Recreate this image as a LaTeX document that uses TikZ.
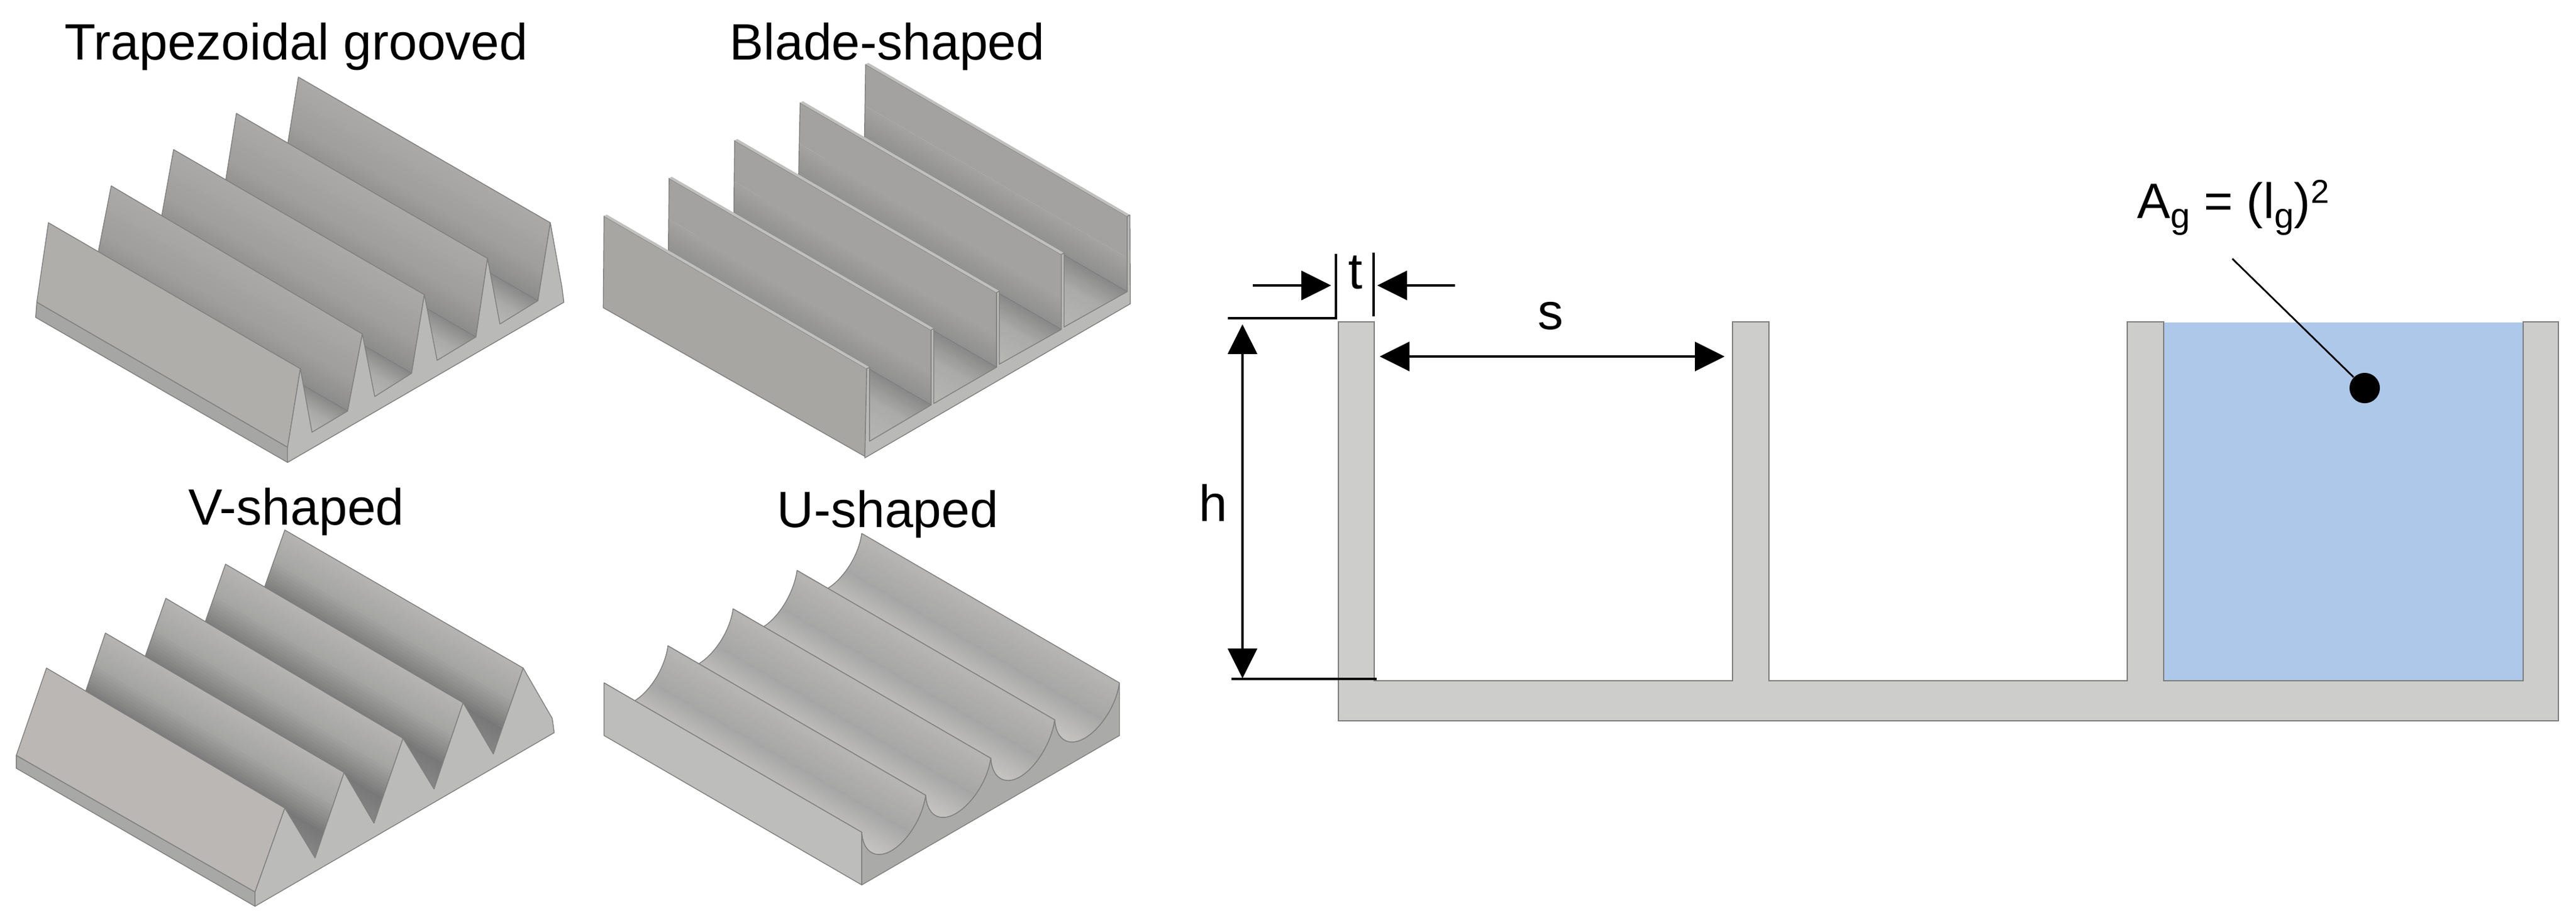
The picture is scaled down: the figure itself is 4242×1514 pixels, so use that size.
\documentclass[tikz,border=0pt]{standalone}
\usepackage{fontspec}
\setmainfont{Liberation Sans}
\usetikzlibrary{calc,arrows.meta}
\definecolor{edgegray}{HTML}{808080}
\definecolor{wallA}{HTML}{ABA9A7}
\definecolor{wallB}{HTML}{A09E9C}
\definecolor{wallC}{HTML}{8B8B8B}
\definecolor{floorA}{HTML}{8A8A8A}
\definecolor{floorB}{HTML}{ABABA9}
\definecolor{floorC}{HTML}{B7B7B5}
\definecolor{trapFace}{HTML}{B0AEAB}
\definecolor{trapStrip}{HTML}{A6A6A4}
\definecolor{trapEnd}{HTML}{B9B9B7}
\definecolor{bladeFace}{HTML}{A7A6A3}
\definecolor{bladeWall}{HTML}{A3A2A0}
\definecolor{bladeLow}{HTML}{8F8F8F}
\definecolor{bladeTop}{HTML}{C0C0BE}
\definecolor{vA}{HTML}{B5B4B2}
\definecolor{vB}{HTML}{A5A5A3}
\definecolor{vC}{HTML}{787878}
\definecolor{vD}{HTML}{888888}
\definecolor{vFace}{HTML}{BAB7B5}
\definecolor{vStrip}{HTML}{A8A8A6}
\definecolor{vEnd}{HTML}{BBBBB9}
\definecolor{uA}{HTML}{B6B5B3}
\definecolor{uB}{HTML}{A6A6A6}
\definecolor{uC}{HTML}{BBBAB8}
\definecolor{uD}{HTML}{C6C5C3}
\definecolor{uFace}{HTML}{BDBDBB}
\definecolor{uEnd}{HTML}{AAAAA8}
\definecolor{secFill}{HTML}{CDCDCB}
\definecolor{secEdge}{HTML}{7D7D7D}
\definecolor{water}{HTML}{AEC8E9}
\newcommand\gradseg[8]{%
  \foreach \k in {0,...,10}{%
    \pgfmathsetmacro\gt{#5+(#6-#5)*\k/10}%
    \pgfmathsetmacro\gp{100-10*\k}%
    \fill[#7!\gp!#8] ($(#1)!\gt!(#4)$) -- ($(#2)!\gt!(#3)$) -- (#3) -- (#4) -- cycle;
  }%
}
\newcommand\ugroove[4]{%
  \begin{scope}
    \clip (#3-665,#4-525) .. controls (#3-10-665,#4+100-525) and (#1+95-665,#2+75-525) .. (#1+47-665,#2+78-525)
      .. controls (#1+20-665,#2+80-525) and (#1+2-665,#2+50-525) .. (#1-665,#2-525)
      -- (#1,#2) .. controls (#1+2,#2+50) and (#1+20,#2+80) .. (#1+47,#2+78)
      .. controls (#1+95,#2+75) and (#3-10,#4+100) .. (#3,#4) -- cycle;
    \coordinate (qa) at (#3-665,#4-525);
    \coordinate (qb) at (#3+133,#4+105);
    \coordinate (qc) at (#1+47+133,#2+90+105);
    \coordinate (qd) at (#1+47-665,#2+90-525);
    \gradseg{qa}{qb}{qc}{qd}{0}{.5}{uA}{uB}
    \gradseg{qa}{qb}{qc}{qd}{.5}{.8}{uB}{uC}
    \gradseg{qa}{qb}{qc}{qd}{.8}{1}{uC}{uD}
  \end{scope}
  \draw[edgeline] (#3-665,#4-525) .. controls (#3-10-665,#4+100-525) and (#1+95-665,#2+75-525) .. (#1+47-665,#2+78-525)
      .. controls (#1+20-665,#2+80-525) and (#1+2-665,#2+50-525) .. (#1-665,#2-525)
      -- (#1,#2) .. controls (#1+2,#2+50) and (#1+20,#2+80) .. (#1+47,#2+78)
      .. controls (#1+95,#2+75) and (#3-10,#4+100) .. (#3,#4) -- cycle;
}
\newcommand\subg{\raisebox{-0.2em}{\fontsize{16.5}{16.5}\selectfont g}}
\newcommand\supt{\raisebox{0.3em}{\fontsize{15.5}{15.5}\selectfont 2}}
\tikzset{
  edgeline/.style={draw=edgegray,line width=0.4pt,line join=round},
  title/.style={anchor=base,inner sep=0pt,font=\fontsize{23.9}{28}\selectfont},
  dimlabel/.style={anchor=base,inner sep=0pt,font=\fontsize{23.9}{28}\selectfont},
  dimline/.style={draw=black,line width=1pt},
  dimarrow/.style={draw=black,line width=1.1pt,-{Triangle[length=0.49cm,width=0.48cm]}},
  dimboth/.style={draw=black,line width=1.1pt,{Triangle[length=0.49cm,width=0.48cm]}-{Triangle[length=0.49cm,width=0.48cm]}},
  section/.style={fill=secFill,draw=secEdge,line width=0.8pt,line join=miter},
  panelA/.style={shift={(0,0)},x=0.006378cm,y=-0.004975cm},
  panelB/.style={shift={(950,0)},x=0.006378cm,y=-0.004975cm},
  panelC/.style={shift={(0,780)},x=0.006378cm,y=-0.004681cm},
  panelD/.style={shift={(950,780)},x=0.006378cm,y=-0.004681cm}
}
\begin{document}
\begin{tikzpicture}[x=0.01cm,y=-0.01cm]
\useasboundingbox (0,0) rectangle (4242,1514);
\fill[white] (0,0) rectangle (4242,1514);

% ---------- Trapezoidal
\begin{scope}[panelA]
\foreach \bx/\by/\fx/\fy/\gx/\gy/\lx/\ly in {
  770/255/1420/737/1388/995/1290/1072,
  610/375/1258/855/1228/1115/1128/1192,
  448/495/1095/975/1062/1235/967/1312,
  287/615/935/1105/897/1360/805/1430}{
  \coordinate (qa) at (\bx,\by);
  \coordinate (qb) at (\fx,\fy);
  \coordinate (qc) at (\gx,\gy);
  \coordinate (qd) at (\gx-650,\gy-483);
  \gradseg{qa}{qb}{qc}{qd}{0}{.6}{wallA}{wallB}
  \gradseg{qa}{qb}{qc}{qd}{.6}{1}{wallB}{wallC}
  \draw[edgeline] (qa) -- (qb) -- (qc) -- (qd) -- cycle;
  \coordinate (qe) at (\lx,\ly);
  \coordinate (qf) at (\lx-650,\ly-483);
  \gradseg{qd}{qc}{qe}{qf}{0}{.5}{floorA}{floorB}
  \gradseg{qd}{qc}{qe}{qf}{.5}{1}{floorB}{floorC}
  \draw[edgeline] (qc) -- (qd);
}
\fill[trapFace,edgeline] (125,737) -- (775,1220) -- (742,1480) -- (95,1000) -- cycle;
\fill[trapStrip,edgeline] (95,1000) -- (742,1480) -- (742,1530) -- (92,1050) -- cycle;
\fill[trapEnd,edgeline] (742,1530) -- (742,1480) -- (775,1220) -- (805,1430) -- (897,1360) -- (935,1105) -- (967,1312) -- (1062,1235) -- (1095,975) -- (1128,1192) -- (1228,1115) -- (1258,855) -- (1290,1072) -- (1388,995) -- (1420,737) -- (1450,950) -- (1455,1000) -- cycle;
\end{scope}
\node[title] (tTrap) at (488,98) {Trapezoidal grooved};

% ---------- Blade
\begin{scope}[panelB]
\foreach \bx/\by/\fx/\fy/\gx/\gy/\lx/\ly in {
  745/213/1420/716/1420/965/1257/1082,
  576/340/1250/842/1250/1090/1090/1205,
  407/465/1083/968/1083/1215/921/1335,
  238/590/914/1092/914/1340/755/1460}{
  \coordinate (qa) at (\bx,\by);
  \coordinate (qb) at (\fx,\fy);
  \coordinate (qc) at (\gx,\gy);
  \coordinate (qd) at (\gx-678,\gy-503);
  \gradseg{qa}{qb}{qc}{qd}{.55}{1}{bladeWall}{bladeLow}
  \fill[bladeWall] (qa) -- (qb) -- ($(qb)!.55!(qc)$) -- ($(qa)!.55!(qd)$) -- cycle;
  \draw[edgeline] (qa) -- (qb) -- (qc) -- (qd) -- cycle;
  \fill[bladeTop] (qa) -- (\bx+7,\by-5) -- (\fx+7,\fy-5) -- (qb) -- cycle;
  \coordinate (qe) at (\lx,\ly);
  \coordinate (qf) at (\lx-678,\ly-503);
  \gradseg{qd}{qc}{qe}{qf}{0}{.4}{floorA}{floorB}
  \gradseg{qd}{qc}{qe}{qf}{.4}{1}{floorB}{floorC}
  \draw[edgeline] (qc) -- (qd);
}
\fill[bladeFace,edgeline] (70,715) -- (748,1220) -- (743,1510) -- (68,1018) -- cycle;
\fill[bladeTop] (70,715) -- (77,710) -- (755,1215) -- (748,1220) -- cycle;
\fill[trapEnd,edgeline] (743,1515) -- (748,1220) -- (755,1215) -- (755,1460) -- (914,1340) -- (914,1092) -- (921,1087) -- (921,1335) -- (1083,1215) -- (1083,968) -- (1090,963) -- (1090,1205) -- (1250,1090) -- (1250,842) -- (1257,837) -- (1257,1082) -- (1420,965) -- (1420,716) -- (1427,711) -- (1428,1005) -- cycle;
\end{scope}
\node[title] (tBlade) at (1461,98) {Blade-shaped};

% ---------- V
\begin{scope}[panelC]
\foreach \bx/\by/\fx/\fy/\gx/\gy in {
  735/198/1350/683/1273/985,
  582/318/1195/805/1120/1108,
  428/438/1040/930/965/1228,
  272/560/888/1050/813/1350}{
  \coordinate (qa) at (\bx,\by);
  \coordinate (qb) at (\fx,\fy);
  \coordinate (qc) at (\gx,\gy);
  \coordinate (qd) at (\gx-615,\gy-492);
  \gradseg{qa}{qb}{qc}{qd}{0}{.35}{vA}{vB}
  \gradseg{qa}{qb}{qc}{qd}{.35}{.7}{vB}{vC}
  \gradseg{qa}{qb}{qc}{qd}{.7}{1}{vC}{vD}
  \draw[edgeline] (qa) -- (qb) -- (qc) -- (qd) -- cycle;
}
\fill[vFace,edgeline] (120,683) -- (735,1175) -- (658,1470) -- (42,990) -- cycle;
\fill[vStrip,edgeline] (42,990) -- (658,1470) -- (658,1520) -- (42,1035) -- cycle;
\fill[vEnd,edgeline] (658,1520) -- (658,1470) -- (735,1175) -- (813,1350) -- (888,1050) -- (965,1228) -- (1040,930) -- (1120,1108) -- (1195,805) -- (1273,985) -- (1350,683) -- (1425,860) -- (1430,910) -- cycle;
\end{scope}
\node[title] (tV) at (488,864) {V-shaped};

% ---------- U
\begin{scope}[panelD]
\ugroove{1233}{865}{1400}{735}
\ugroove{1068}{1000}{1233}{865}
\ugroove{900}{1130}{1068}{1000}
\ugroove{735}{1260}{900}{1130}
\fill[uFace,edgeline] (70,735) -- (735,1260) -- (735,1445) -- (70,920) -- cycle;
\fill[uEnd,edgeline] (735,1445) -- (735,1260)
  .. controls (737,1310) and (755,1340) .. (782,1338) .. controls (830,1335) and (890,1230) .. (900,1130)
  .. controls (902,1180) and (920,1210) .. (947,1208) .. controls (995,1205) and (1058,1100) .. (1068,1000)
  .. controls (1070,1050) and (1088,1080) .. (1115,1078) .. controls (1163,1075) and (1223,965) .. (1233,865)
  .. controls (1235,915) and (1253,945) .. (1280,943) .. controls (1328,940) and (1390,835) .. (1400,735)
  -- (1400,920) -- cycle;
\end{scope}
\node[title] (tU) at (1462,868) {U-shaped};

% ---------- Section
\fill[water] (3563,531) rectangle (4155,1120);
\draw[section] (2204,530) -- (2263,530) -- (2263,1121) -- (2853,1121) -- (2853,530) -- (2913,530) -- (2913,1121) -- (3503,1121) -- (3503,530) -- (3563,530) -- (3563,1121) -- (4155,1121) -- (4155,530) -- (4213,530) -- (4213,1187) -- (2204,1187) -- cycle;

% t dimension
\coordinate (tLtop) at (2200,418);
\coordinate (tLbot) at (2200,524);
\coordinate (tLend) at (2022,524);
\coordinate (tRtop) at (2262,416);
\coordinate (tRbot) at (2262,521);
\coordinate (taStart) at (2063,470);
\coordinate (taTip) at (2192,470);
\coordinate (tbStart) at (2396,470);
\coordinate (tbTip) at (2268,470);
\draw[dimline] (tLtop) -- (tLbot) -- (tLend);
\draw[dimline] (tRtop) -- (tRbot);
\draw[dimarrow] (taStart) -- (taTip);
\draw[dimarrow] (tbStart) -- (tbTip);
\node[dimlabel] (tLabel) at (2232,475) {t};

% s dimension
\coordinate (sLeft) at (2272,587);
\coordinate (sRight) at (2840,587);
\draw[dimboth] (sLeft) -- (sRight);
\node[dimlabel] (sLabel) at (2553,542) {s};

% h dimension
\coordinate (hTop) at (2046,534);
\coordinate (hBot) at (2046,1117);
\coordinate (hEndL) at (2028,1118);
\coordinate (hEndR) at (2267,1118);
\draw[dimboth] (hTop) -- (hBot);
\draw[dimline] (hEndL) -- (hEndR);
\node[dimlabel] (hLabel) at (1998,858) {h};

% Area label
\node[circle,fill=black,inner sep=0pt,minimum size=0.5cm] (dot) at (3894,639) {};
\coordinate (leadStart) at (3676,426);
\draw[draw=black,line width=0.8pt] (leadStart) -- (dot);
\node[anchor=base west,inner sep=0pt,font=\fontsize{23.3}{28}\selectfont] (areaLabel) at (3519,359) {A\subg{} = (l\subg)\supt};
\end{tikzpicture}
\end{document}
